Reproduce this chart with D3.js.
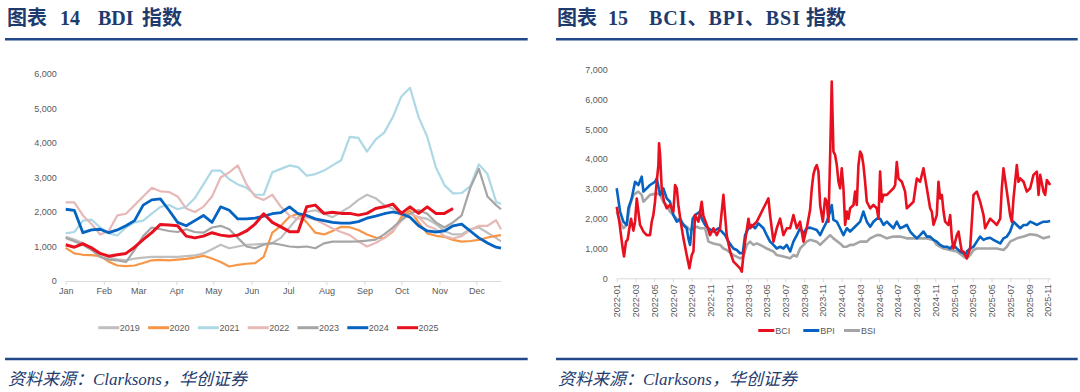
<!DOCTYPE html>
<html><head><meta charset="utf-8">
<script src="https://cdn.jsdelivr.net/npm/d3@7"></script>
<style>
body{margin:0;background:#fff;}
svg{display:block;}
</style></head>
<body><svg id="c" width="1080" height="392"></svg>
<script>
// ---------- Left chart data (BDI by year, weekly samples, day of year) ----------
const bdiDays = [0,7,14,21,28,35,42,49,56,63,70,77,84,91,98,105,112,119,126,133,140,147,154,161,168,175,182,189,196,203,210,217,224,231,238,245,252,259,266,273,280,287,294,301,308,315,322,329,336,343,350,354];
const bdiYears = ["2019","2020","2021","2022","2023","2024","2025"];
const bdi2019 = [1280,1200,1100,950,800,680,630,600,650,680,700,700,700,700,720,740,800,920,1050,950,1000,1050,1060,1080,1100,1250,1550,1850,2000,2050,1950,1850,2000,2150,2350,2500,2400,2200,2100,1900,1950,1850,1800,1650,1450,1350,1350,1500,1550,1400,1250,1150];
const bdi2020 = [960,800,760,750,720,560,450,430,450,520,600,610,600,620,640,680,730,650,550,420,470,500,520,700,1400,1600,1860,1950,1700,1400,1350,1450,1570,1560,1480,1350,1260,1240,1430,1850,2050,1700,1380,1310,1280,1190,1140,1160,1190,1260,1310,1330];
const bdi2021 = [1380,1420,1750,1780,1550,1380,1320,1550,1700,1750,1950,2150,2200,2080,2150,2400,2800,3200,3200,2950,2800,2700,2500,2500,3150,3250,3350,3300,3050,3100,3200,3350,3500,4180,4150,3750,4100,4300,4750,5350,5600,4750,4180,3300,2780,2540,2550,2750,3380,3100,2300,2230];
const bdi2022 = [2280,2280,1900,1650,1350,1450,1900,1950,2200,2450,2700,2600,2580,2450,2100,2000,2150,2450,3000,3150,3350,2800,2450,2350,2500,2150,1900,1800,1850,1780,1650,1520,1420,1330,1150,1000,1100,1250,1450,1750,1950,1850,1600,1500,1300,1230,1300,1480,1600,1600,1760,1500];
const bdi2023 = [1250,1150,1050,900,700,620,600,550,900,1300,1550,1500,1450,1420,1500,1420,1400,1550,1600,1500,1250,1000,950,1050,1100,1050,1000,980,1000,950,1090,1140,1140,1140,1150,1170,1200,1350,1550,1770,1950,2060,1950,1700,1550,1700,1900,2700,3250,2450,2200,2080];
const bdi2024 = [2080,2050,1400,1480,1500,1400,1480,1600,1750,2200,2350,2380,2050,1700,1600,1750,1900,1700,2150,2050,1800,1800,1820,1880,1950,1980,2150,1950,1900,1800,1750,1700,1680,1680,1720,1820,1880,1950,2000,1950,1850,1600,1450,1420,1450,1600,1650,1450,1250,1100,980,950];
const bdi2025 = [1050,980,1080,960,800,720,760,800,980,1200,1400,1640,1620,1600,1300,1250,1300,1400,1330,1300,1330,1450,1650,1950,1700,1570,1430,1430,2150,2200,1960,1990,1960,1960,1910,1960,2100,2150,2230,1960,2150,1960,2150,1960,1960,2100];
const monthLabels = ["Jan","Feb","Mar","Apr","May","Jun","Jul","Aug","Sep","Oct","Nov","Dec"];
const monthStartDays = [0,31,59,90,120,151,181,212,243,273,304,334];
const leftYTicks = [0,1000,2000,3000,4000,5000,6000];

// ---------- Right chart data (months since 2022-01, value) ----------
const bciSeries = [[0,2400],[0.28,1900],[0.46,1450],[0.64,1000],[0.78,730],[0.99,1230],[1.17,1300],[1.35,1680],[1.53,2000],[1.78,1600],[1.96,1900],[2.14,2680],[2.49,1790],[2.85,1570],[3.2,1450],[3.56,1450],[3.74,1900],[3.91,2120],[4.09,2570],[4.27,3240],[4.45,3800],[4.52,4530],[4.63,4140],[4.8,3020],[5.05,2570],[5.34,2350],[5.69,2460],[6.05,2240],[6.23,3130],[6.41,3020],[6.58,2460],[6.83,1900],[7.12,1340],[7.47,780],[7.76,335],[8.01,780],[8.19,900],[8.36,2120],[8.72,1900],[9.07,2570],[9.25,2100],[9.61,1790],[9.96,1450],[10.32,1680],[10.68,1450],[11.03,1680],[11.39,2800],[11.57,2100],[11.74,1450],[12.1,900],[12.46,560],[12.81,450],[13.17,335],[13.35,220],[13.52,780],[13.7,1230],[14.06,2000],[14.23,1680],[14.59,1790],[14.95,1900],[15.3,2120],[15.66,2350],[16.01,2570],[16.19,2680],[16.37,2120],[16.73,1230],[17.08,1680],[17.44,2000],[17.79,1450],[18.15,1680],[18.51,1680],[18.86,2120],[19.22,1680],[19.57,1900],[19.93,1230],[20.28,1680],[20.64,2300],[20.82,3020],[20.99,3470],[21.17,3690],[21.35,3800],[21.53,3580],[21.71,2460],[22.0,1900],[22.24,2680],[22.42,2570],[22.6,1900],[22.78,4140],[22.95,6600],[23.13,4250],[23.31,4140],[23.49,3800],[23.67,3240],[23.84,3020],[24.02,3690],[24.2,3020],[24.38,1790],[24.56,2240],[24.73,2000],[24.91,2350],[25.27,2460],[25.44,2910],[25.62,2460],[25.8,3800],[25.98,4250],[26.16,4140],[26.33,3800],[26.51,3240],[26.69,2570],[26.87,2460],[27.05,2350],[27.4,2460],[27.76,2350],[27.94,2000],[28.11,3580],[28.29,2570],[28.47,2800],[28.83,2800],[29.18,2910],[29.54,3020],[29.72,3130],[29.89,3900],[30.07,3350],[30.43,3240],[30.78,2910],[30.96,2350],[31.32,2460],[31.67,2570],[32.03,3350],[32.38,3240],[32.74,3690],[33.1,3020],[33.45,2350],[33.63,2240],[33.81,1790],[34.16,2120],[34.34,3240],[34.52,2680],[34.7,2800],[34.88,2240],[35.05,1900],[35.41,1790],[35.59,2120],[35.77,1340],[35.94,1000],[36.3,1450],[36.48,1570],[36.65,1230],[36.83,900],[37.01,900],[37.19,780],[37.37,670],[37.72,1000],[38.08,2800],[38.43,2910],[38.79,2570],[39.15,2120],[39.32,1680],[39.5,1790],[39.86,2000],[40.21,1900],[40.57,1790],[40.93,2000],[41.1,3020],[41.28,3690],[41.64,2910],[41.99,2120],[42.17,1900],[42.35,2680],[42.7,3800],[42.88,3240],[43.06,3350],[43.42,3240],[43.77,2910],[44.13,3020],[44.48,3470],[44.84,3580],[45.02,2800],[45.2,3470],[45.55,2910],[45.73,2800],[45.91,3300],[46.26,3130]];
const bpiSeries = [[0,3020],[0.36,2240],[0.71,1900],[1.07,1790],[1.25,2350],[1.6,2680],[1.96,3240],[2.31,3130],[2.67,3410],[2.85,2910],[3.2,3020],[3.56,3130],[4.09,3240],[4.27,3350],[4.63,2800],[4.98,3020],[5.34,2680],[5.69,2570],[6.05,2120],[6.41,1900],[6.76,2000],[7.12,1790],[7.47,1680],[7.65,1340],[7.83,1120],[8.11,2000],[8.36,2120],[8.9,2240],[9.07,2000],[9.43,1790],[9.79,1680],[10.32,1570],[10.85,1680],[11.21,1570],[11.57,1450],[11.92,1230],[12.46,1000],[12.81,950],[13.17,840],[13.45,840],[13.7,1450],[14.06,1680],[14.41,1790],[14.77,1680],[15.12,1840],[15.3,1790],[15.66,1680],[16.01,1450],[16.37,1230],[16.73,1120],[17.08,1000],[17.44,1060],[17.79,1000],[18.15,1120],[18.51,900],[18.86,1230],[19.22,1450],[19.57,1680],[19.93,1510],[20.28,1680],[20.64,1700],[21.35,1620],[21.71,1450],[22.06,1680],[22.42,1900],[22.78,2240],[22.95,2460],[23.13,1960],[23.49,1900],[23.84,1680],[24.2,1450],[24.56,1680],[24.91,1570],[25.27,1680],[25.62,1790],[25.98,1900],[26.33,2240],[26.69,1900],[27.05,1730],[27.4,1900],[27.76,2000],[28.11,2000],[28.47,1790],[28.83,1900],[29.18,1790],[29.54,1680],[29.89,1900],[30.25,1680],[30.61,1730],[30.96,1790],[31.32,1570],[31.67,1450],[32.03,1340],[32.38,1450],[32.74,1570],[33.1,1400],[33.45,1400],[33.81,1290],[34.16,1230],[34.52,1120],[34.88,1060],[35.23,1060],[35.59,1000],[35.94,1120],[36.3,1000],[36.65,900],[37.01,840],[37.19,780],[37.37,900],[37.72,1000],[38.08,1060],[38.43,1230],[38.79,1400],[39.15,1290],[39.5,1340],[39.86,1360],[40.21,1290],[40.57,1230],[40.93,1170],[41.28,1340],[41.64,1400],[41.99,1570],[42.35,1900],[42.7,1790],[43.06,1680],[43.42,1790],[43.77,1790],[44.13,1900],[44.48,1850],[44.84,1790],[45.2,1850],[45.55,1900],[45.91,1900],[46.26,1920]];
const bsiSeries = [[0,2240],[0.36,1900],[0.71,1680],[1.07,1790],[1.42,2460],[1.78,2800],[2.31,2910],[2.67,2800],[2.85,2570],[3.2,2680],[3.56,2800],[4.27,2850],[4.63,2800],[4.98,2570],[5.34,2460],[5.69,2240],[6.05,2120],[6.41,2000],[6.76,1900],[7.47,1730],[7.83,1620],[8.19,1680],[8.54,1730],[8.9,1680],[9.43,1680],[9.79,1230],[10.32,1170],[11.03,1120],[11.39,1000],[11.74,950],[12.46,780],[13.17,670],[13.52,730],[13.88,1120],[14.23,1230],[14.59,1120],[14.95,1170],[15.3,1120],[15.66,1060],[16.01,1000],[16.73,900],[17.08,780],[17.79,730],[18.51,670],[18.86,780],[19.22,730],[19.57,1000],[20.28,1230],[20.64,1290],[21.35,1230],[21.71,1120],[22.06,1230],[22.78,1450],[23.13,1340],[23.84,1170],[24.2,1060],[24.56,1060],[24.91,1120],[25.27,1120],[25.98,1230],[26.69,1230],[27.05,1340],[27.76,1450],[28.11,1450],[28.83,1340],[29.54,1400],[30.25,1400],[30.96,1340],[31.67,1340],[32.38,1340],[33.1,1340],[33.81,1290],[34.16,1120],[34.88,1000],[35.59,950],[36.3,900],[37.01,730],[37.37,670],[37.72,780],[38.08,950],[38.43,1000],[39.15,1000],[39.86,1000],[40.57,1000],[41.28,950],[41.64,1060],[41.99,1230],[42.7,1340],[43.42,1400],[44.13,1480],[44.84,1450],[45.55,1340],[46.26,1400]];
const rightXTickMonths = [0,2,4,6,8,10,12,14,16,18,20,22,24,26,28,30,32,34,36,38,40,42,44,46];
const rightXTickLabels = ["2022-01","2022-03","2022-05","2022-07","2022-09","2022-11","2023-01","2023-03","2023-05","2023-07","2023-09","2023-11","2024-01","2024-03","2024-05","2024-07","2024-09","2024-11","2025-01","2025-03","2025-05","2025-07","2025-09","2025-11"];
const rightYTicks = [0,1000,2000,3000,4000,5000,6000,7000];
const rightSeriesNames = ["BCI","BPI","BSI"];

// ---------- Drawing ----------
const svg = d3.select("#c");
const NAVY = "#1f3b6e", RULE = "#23488a", AXIS = "#d9d9d9", LBL = "#595959";
const latin = "'Liberation Sans', Arial, sans-serif";
const titleFont = "'Liberation Serif','Noto Sans CJK SC',serif";

function titleText(x, txt, len) {
  const t = svg.append("text").attr("x", x).attr("y", 25).text(txt)
    .attr("font-family", titleFont).attr("font-weight", "bold")
    .attr("font-size", 20).attr("fill", NAVY);
  if (len) t.attr("textLength", len).attr("lengthAdjust", "spacing");
}
titleText(7, "图表"); titleText(60, "14"); titleText(98, "BDI"); titleText(142, "指数");
titleText(557, "图表"); titleText(608, "15"); titleText(649, "BCI、BPI、BSI", 151); titleText(806, "指数");

[[5, 527.7], [556, 1077.7]].forEach(([a, b]) => {
  [39.3, 359].forEach(y => svg.append("line").attr("x1", a).attr("x2", b).attr("y1", y).attr("y2", y)
    .attr("stroke", RULE).attr("stroke-width", 2.5));
});
[8, 558].forEach(x => svg.append("text").attr("x", x).attr("y", 385)
  .text("资料来源：Clarksons，华创证券").attr("font-family", titleFont)
  .attr("font-style", "italic").attr("font-size", 17).attr("fill", NAVY));

// Left chart
const xL = d3.scaleLinear().domain([0, 354]).range([65.7, 501]);
const yL = d3.scaleLinear().domain([0, 6000]).range([281, 74]);
const gL = svg.append("g");
const axL = gL.append("g").attr("transform", `translate(0,${yL(0)})`)
  .call(d3.axisBottom(xL).tickValues(monthStartDays).tickFormat((d, i) => monthLabels[i]).tickSize(4).tickSizeOuter(0).tickPadding(3));
const ayL = gL.append("g").attr("transform", `translate(${xL(0)},0)`)
  .call(d3.axisLeft(yL).tickValues(leftYTicks).tickFormat(d3.format(",")).tickSize(0).tickPadding(9));
ayL.select(".domain").remove();

const leftColors = ["#bfbfbf", "#f79646", "#add8e6", "#e6b9b8", "#a5a5a5", "#0563c1", "#e8101e"];
const leftWidths = [2.2, 2.2, 2.2, 2.2, 2.2, 2.8, 3];
const leftData = [bdi2019, bdi2020, bdi2021, bdi2022, bdi2023, bdi2024, bdi2025];
const lineL = d3.line().x((d, i) => xL(bdiDays[i])).y(d => yL(d));
leftData.forEach((arr, k) => {
  gL.append("path").datum(arr).attr("d", lineL).attr("fill", "none")
    .attr("stroke", leftColors[k]).attr("stroke-width", leftWidths[k]).attr("stroke-linejoin", "round");
});
// legend
const legL = gL.append("g");
bdiYears.forEach((y, k) => {
  const x0 = 98.3 + k * 49.8;
  legL.append("line").attr("x1", x0).attr("x2", x0 + 21).attr("y1", 327.7).attr("y2", 327.7)
    .attr("stroke", leftColors[k]).attr("stroke-width", 3);
  legL.append("text").attr("x", x0 + 21.5).attr("y", 327.7).attr("dy", "0.35em").text(y)
    .attr("font-family", latin).attr("font-size", 9).attr("fill", LBL);
});

// Right chart
const xR = d3.scaleLinear().domain([0, 46.3]).range([616.7, 616.7 + 46.3 * 9.37]);
const yR = d3.scaleLinear().domain([0, 7000]).range([278.3, 69.7]);
const gR = svg.append("g");
const axR = gR.append("g").attr("transform", `translate(0,${yR(0)})`)
  .call(d3.axisBottom(xR).tickValues(rightXTickMonths).tickFormat((d, i) => rightXTickLabels[i]).tickSize(4).tickSizeOuter(0));
axR.selectAll("text").attr("y", 0).attr("x", -6).attr("dy", "0.35em")
  .attr("transform", "rotate(-90)").style("text-anchor", "end");
const ayR = gR.append("g").attr("transform", `translate(${xR(0)},0)`)
  .call(d3.axisLeft(yR).tickValues(rightYTicks).tickFormat(d3.format(",")).tickSize(0).tickPadding(9));
ayR.select(".domain").remove();

const rightColors = ["#e8101e", "#0563c1", "#a5a5a5"];
const rightData = [bciSeries, bpiSeries, bsiSeries];
const lineR = d3.line().x(d => xR(d[0])).y(d => yR(d[1]));
[2, 1, 0].forEach(k => {
  gR.append("path").datum(rightData[k]).attr("d", lineR).attr("fill", "none")
    .attr("stroke", rightColors[k]).attr("stroke-width", 2.6).attr("stroke-linejoin", "round");
});
const legXs = [758.3, 803.3, 844];
rightSeriesNames.forEach((n, k) => {
  gR.append("line").attr("x1", legXs[k]).attr("x2", legXs[k] + 16).attr("y1", 330.5).attr("y2", 330.5)
    .attr("stroke", rightColors[k]).attr("stroke-width", 3);
  gR.append("text").attr("x", legXs[k] + 17).attr("y", 330.5).attr("dy", "0.35em").text(n)
    .attr("font-family", latin).attr("font-size", 9).attr("fill", LBL);
});

// axis styling
svg.selectAll(".domain").attr("stroke", AXIS);
svg.selectAll(".tick line").attr("stroke", AXIS);
svg.selectAll(".tick text").attr("fill", LBL).attr("font-size", 9).attr("font-family", latin);
</script>
</body></html>
